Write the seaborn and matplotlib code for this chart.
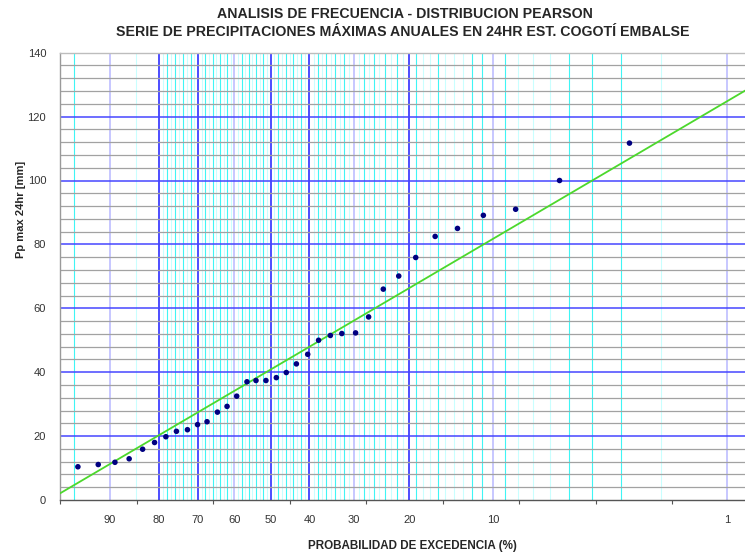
import numpy as np
import pandas as pd
import matplotlib
matplotlib.use("Agg")
import matplotlib.pyplot as plt
import seaborn as sns
from statistics import NormalDist

# ─────────────────────────────────────────────
# DATOS
# ─────────────────────────────────────────────
# factor de frecuencia K de cada punto (eje x del gráfico) y Pp máx 24 hr [mm]
FACTOR_K = [-1.383, -1.250, -1.141, -1.048, -0.960, -0.882, -0.808, -0.739,
            -0.667, -0.601, -0.539, -0.471, -0.408, -0.345, -0.278, -0.219,
            -0.154, -0.086, -0.021, 0.045, 0.119, 0.190, 0.267, 0.342,
            0.432, 0.517, 0.613, 0.714, 0.825, 0.952, 1.098, 1.267,
            1.478, 1.765, 2.222]
PP_MAX = [10.4, 11.1, 11.8, 12.9, 15.9, 18.0, 19.8, 21.5,
          22.0, 23.6, 24.5, 27.5, 29.3, 32.5, 37.0, 37.4,
          37.4, 38.3, 39.9, 42.6, 45.6, 50.0, 51.5, 52.1,
          52.3, 57.3, 66.0, 70.1, 75.9, 82.5, 85.0, 89.1,
          91.0, 100.0, 111.7]

# ajuste Pearson III: Pp = media + K * desv
MEDIA = 44.3
DESV = 28.15
ASIMETRIA = 0.75

# rango del eje x (en K) y del eje y
K_MIN, K_MAX = -1.5, 3.0
Y_MIN, Y_MAX = 0, 140

# grilla vertical (probabilidad de excedencia %)
PROB_AZUL = [80, 70, 50, 40, 20]
PROB_LILA = [90, 60, 30, 10, 1]
PROB_CIAN = [95, 78, 76, 74, 72, 68, 66, 64, 62, 58, 56, 54, 52, 48, 46, 44,
             42, 38, 36, 34, 32, 28, 26, 24, 22, 19, 16, 12, 11, 9, 5, 4, 3]
PROB_CIAN_CLARO = [85, 79, 77, 75, 73, 71, 69, 67, 65, 63, 61, 59, 57, 55, 53,
                   51, 49, 47, 45, 43, 41, 39, 37, 35, 33, 31, 29, 27, 25, 23,
                   21, 18, 17, 15, 14, 13, 8, 7, 6, 2]
PROB_ETIQUETAS = [90, 80, 70, 60, 50, 40, 30, 20, 10, 1]

# grilla horizontal [mm]
Y_AZUL = [20, 40, 60, 80, 100, 120]
Y_GRIS = [4, 8, 12, 16, 24, 28, 32, 36, 44, 48, 52, 56, 64, 68, 72, 76,
          84, 88, 92, 96, 104, 108, 112, 116, 124, 128, 132, 136]


def factor_k(p_exc, g=ASIMETRIA):
    """Factor de frecuencia Pearson III (Wilson-Hilferty)."""
    z = NormalDist().inv_cdf(1 - p_exc / 100)
    return 2 / g * ((1 + g * z / 6 - g ** 2 / 36) ** 3 - 1)


# ─────────────────────────────────────────────
# GRÁFICO
# ─────────────────────────────────────────────
sns.set_style("white")
FUENTE = ["Liberation Sans Narrow", "Liberation Sans", "DejaVu Sans"]
plt.rcParams["font.family"] = FUENTE

W, H = 745, 554
fig = plt.figure(figsize=(W / 100, H / 100), dpi=100)
ax = fig.add_axes([60 / W, 54 / H, 688.5 / W, 447.3 / H])

# grilla vertical
ax.vlines([factor_k(p) for p in PROB_CIAN_CLARO], Y_MIN, Y_MAX,
          color="#c9ffff", lw=0.8, zorder=1)
ax.vlines([factor_k(p) for p in PROB_CIAN], Y_MIN, Y_MAX,
          color="#3ff5f5", lw=0.8, zorder=1)
ax.vlines([factor_k(p) for p in PROB_LILA], Y_MIN, Y_MAX,
          color="#b8b8ff", lw=1.1, zorder=1)
ax.vlines([factor_k(p) for p in PROB_AZUL], Y_MIN, Y_MAX,
          color="#2f2fff", lw=1.2, zorder=2)

# grilla horizontal
ax.hlines(Y_GRIS, K_MIN, K_MAX, color="#a2a2a2", lw=0.9, zorder=2)
ax.hlines(Y_AZUL, K_MIN, K_MAX, color="#4646ff", lw=1.1, zorder=2)

# recta de ajuste
k_linea = np.linspace(K_MIN, K_MAX, 2)
sns.lineplot(x=k_linea, y=MEDIA + DESV * k_linea, color="#4cd82c",
             lw=1.3, ax=ax, zorder=3)

# puntos observados
df = pd.DataFrame({"K": FACTOR_K, "Pp": PP_MAX})
sns.scatterplot(data=df, x="K", y="Pp", color="#000080", s=16,
                edgecolor="none", ax=ax, zorder=4)

ax.set_xlim(K_MIN, K_MAX)
ax.set_ylim(Y_MIN, Y_MAX)

ax.set_xticks([factor_k(p) for p in PROB_ETIQUETAS])
ax.set_xticklabels([str(p) for p in PROB_ETIQUETAS])
ax.set_xticks(np.arange(K_MIN, K_MAX + 0.01, 0.5), minor=True)
ax.tick_params(axis="x", which="major", length=0, pad=11,
               labelsize=8, labelcolor="#333333")
ax.tick_params(axis="x", which="minor", length=3, width=0.8,
               direction="out", color="#555555", bottom=True)
ax.set_yticks(np.arange(Y_MIN, Y_MAX + 1, 20))
ax.tick_params(axis="y", length=0, pad=10, labelsize=8, labelcolor="#333333")
ax.set_xlabel("")
ax.set_ylabel("")

for lado, col in [("left", "#9a9a9a"), ("bottom", "#555555"),
                  ("top", "#bdbdbd"), ("right", "#bdbdbd")]:
    ax.spines[lado].set_color(col)
    ax.spines[lado].set_linewidth(1.0)

fig.text(405 / W, 1 - 14 / H, "ANALISIS DE FRECUENCIA - DISTRIBUCION PEARSON",
         ha="center", va="center", fontsize=10.2, fontweight="bold")
fig.text(403 / W, 1 - 32 / H,
         "SERIE DE PRECIPITACIONES MÁXIMAS ANUALES EN 24HR EST. COGOTÍ EMBALSE",
         ha="center", va="center", fontsize=10.2, fontweight="bold")
fig.text(412 / W, 1 - 546 / H, "PROBABILIDAD DE EXCEDENCIA (%)",
         ha="center", va="center", fontsize=8.4, fontweight="bold")
fig.text(21 / W, 1 - 209 / H, "Pp max 24hr [mm]", rotation=90,
         ha="center", va="center", fontsize=8.0, fontweight="bold")

fig.savefig("out.png", dpi=100)
